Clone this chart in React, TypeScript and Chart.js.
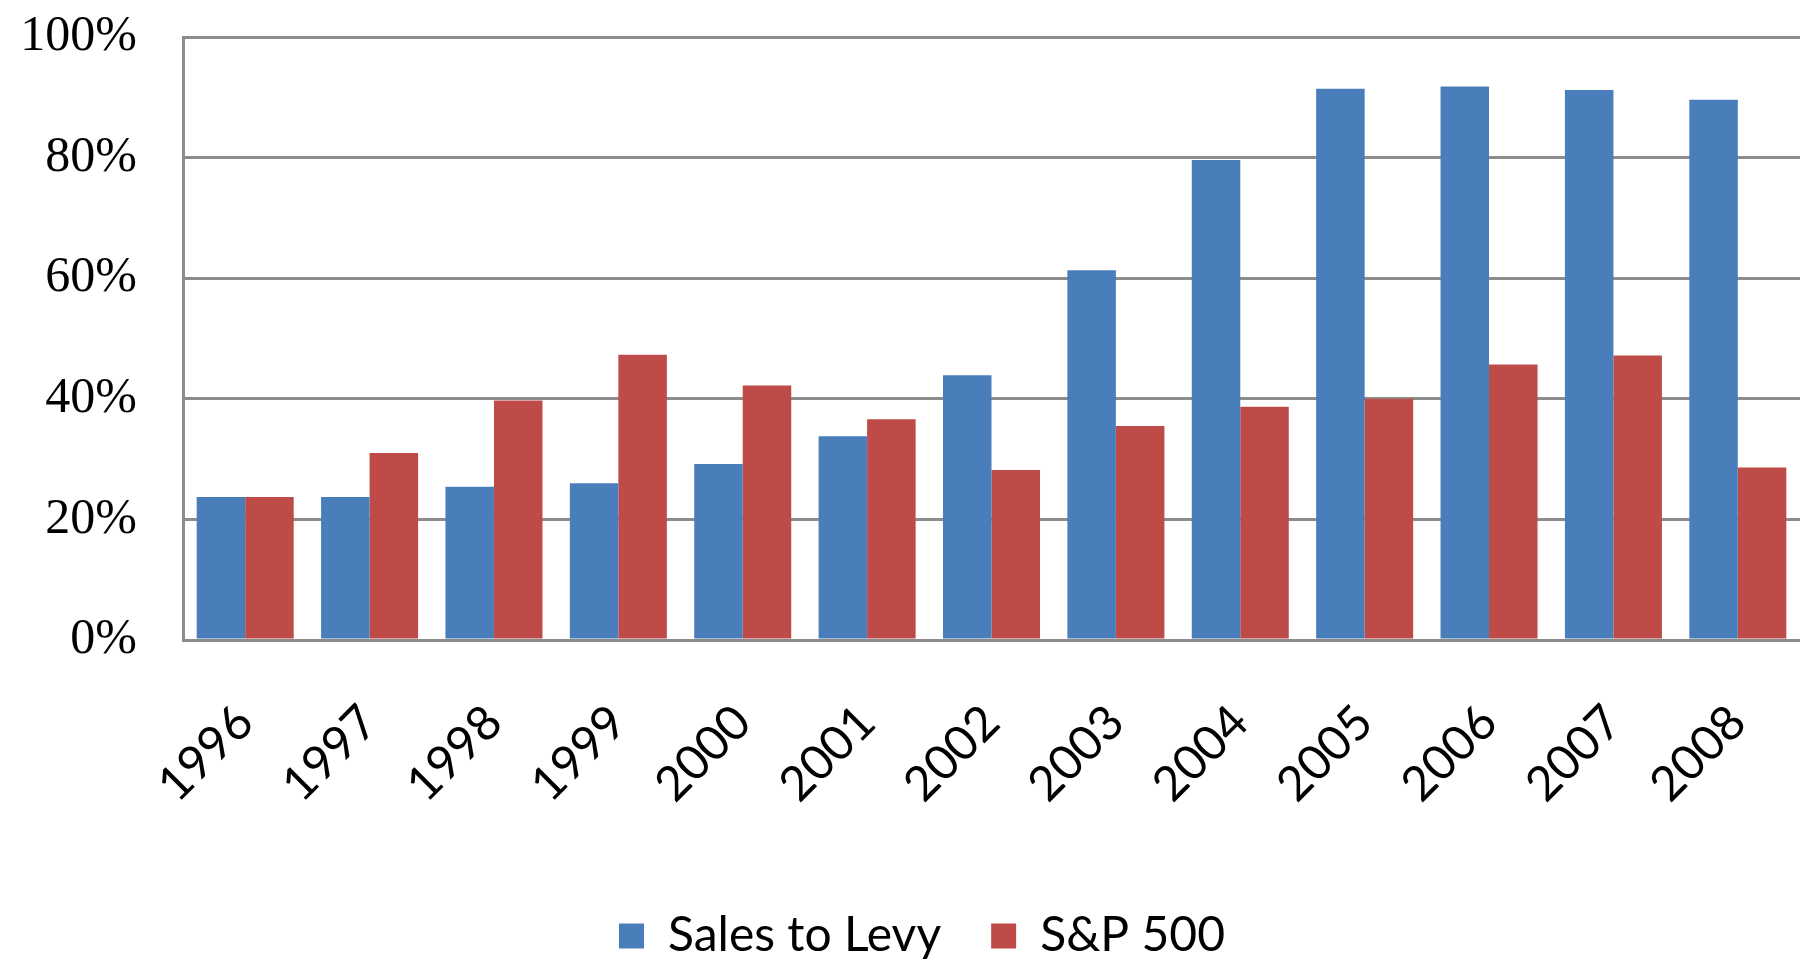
import React, { useEffect, useRef } from "react";
import { Chart, registerables } from "chart.js";

Chart.register(...registerables);

const years = ["1996", "1997", "1998", "1999", "2000", "2001", "2002", "2003", "2004", "2005", "2006", "2007", "2008"];
const salesToLevy = [23.7, 23.7, 25.4, 26.0, 29.2, 33.8, 43.9, 61.3, 79.6, 91.4, 91.8, 91.2, 89.6];
const sp500 = [23.7, 31.0, 39.7, 47.3, 42.2, 36.6, 28.2, 35.5, 38.7, 40.0, 45.7, 47.2, 28.6];
const yTicks = [0, 20, 40, 60, 80, 100];

const legendShift = {
  id: "legendShift",
  afterLayout(chart: any) {
    const lg = chart.legend;
    if (!lg) return;
    const h = lg.bottom - lg.top;
    lg.left = lg.left + 44;
    lg.top = 862;
    lg.bottom = 862 + h;
  },
};

export default function App() {
  const ref = useRef<HTMLCanvasElement | null>(null);
  useEffect(() => {
    document.body.style.margin = "0";
    const ctx = ref.current!;
    const chart = new Chart(ctx, {
      type: "bar",
      data: {
        labels: years,
        datasets: [
          { label: "Sales to Levy", data: salesToLevy, backgroundColor: "#4a7ebb", barPercentage: 1, categoryPercentage: 0.78 },
          { label: "S&P 500", data: sp500, backgroundColor: "#be4b48", barPercentage: 1, categoryPercentage: 0.78 },
        ],
      },
      plugins: [legendShift],
      options: {
        animation: false,
        responsive: false,
        maintainAspectRatio: false,
        layout: { padding: { left: 0, right: 0, top: 37, bottom: 0 } },
        plugins: {
          legend: {
            position: "bottom",
            labels: {
              boxWidth: 25,
              boxHeight: 25,
              padding: 50,
              color: "#000",
              font: { family: "Lato", size: 48 },
            },
          },
          tooltip: { enabled: false },
        },
        scales: {
          x: {
            grid: { display: true, drawOnChartArea: false, drawTicks: true, tickLength: 20, tickColor: "rgba(0,0,0,0)" },
            border: { display: true, color: "#8c8c8c", width: 3 },
            ticks: {
              minRotation: 45,
              maxRotation: 45,
              padding: 34,
              color: "#000",
              font: { family: "Lato", size: 48 },
            },
            afterFit: (s: any) => {
              s.height = 212;
              s.paddingLeft = 0;
              s.paddingRight = 0;
            },
          },
          y: {
            min: 0,
            max: 100,
            afterBuildTicks: (s: any) => { s.ticks = yTicks.map((v) => ({ value: v })); },
            grid: { color: "#8c8c8c", lineWidth: 3, drawTicks: true, tickLength: 39, tickColor: "rgba(0,0,0,0)" },
            border: { display: true, color: "#8c8c8c", width: 3 },
            ticks: {
              padding: 7,
              color: "#000",
              font: { family: "Liberation Serif", size: 50 },
              callback: (v: any) => v + "%",
            },
            afterFit: (s: any) => { s.width = 183; },
          },
        },
      },
    });
    return () => chart.destroy();
  }, []);
  return (
    <div style={{ position: "absolute", left: 0, top: 0, width: 1800, height: 960, background: "#fff" }}>
      <canvas ref={ref} width={1800} height={960} style={{ width: 1800, height: 960 }} />
    </div>
  );
}
